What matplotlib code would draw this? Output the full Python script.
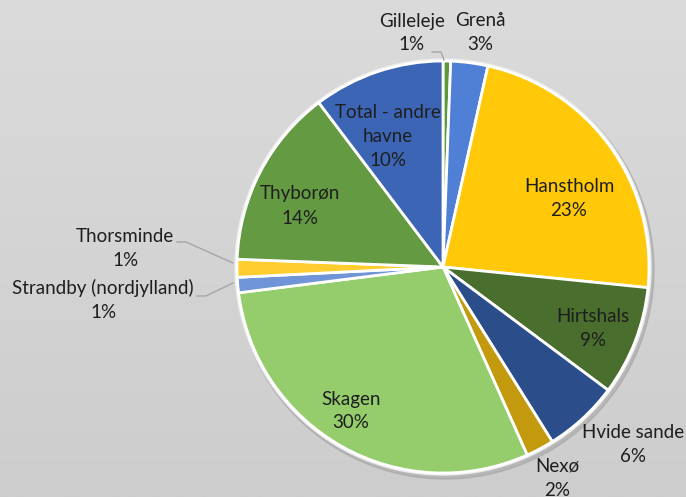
import numpy as np
import matplotlib.pyplot as plt
from matplotlib.colors import LinearSegmentedColormap
from matplotlib.patches import Circle

# data (share of landings, %)
havne = ['Gilleleje', 'Grenå', 'Hanstholm', 'Hirtshals', 'Hvide sande', 'Nexø',
         'Skagen', 'Strandby (nordjylland)', 'Thorsminde', 'Thyborøn',
         'Total - andre\nhavne']
andel = [0.6, 2.9, 23.1, 8.6, 5.9, 2.2, 29.7, 1.2, 1.4, 14.1, 10.3]
farver = ['#5a9a3c', '#4f80d6', '#ffc90a', '#4a6e2e', '#2b4d8a', '#c39a0e',
          '#95cd6c', '#6f95d8', '#ffcd30', '#649a42', '#3c66b5']

# label centres in picture pixels (x, y from top)
label_pos = [(412, 33), (480, 33), (569, 198), (593, 329), (633, 445), (557, 478),
             (351, 411), (103, 300), (125, 248), (300, 206), (388, 136)]

W, H = 686, 497
cx, cy, r = 443, H - 267, 206

fig = plt.figure(figsize=(6.86, 4.97), dpi=100)

# grey gradient background
bg = fig.add_axes([0, 0, 1, 1])
grad = np.linspace(0, 1, 256).reshape(-1, 1)
bg.imshow(grad, cmap=LinearSegmentedColormap.from_list('bg', ['#dbdbdb', '#cdcdcd']),
          aspect='auto', extent=[0, 1, 0, 1])
bg.axis('off')

ax = fig.add_axes([0, 0, 1, 1])
ax.patch.set_alpha(0)

# soft shadow / rim round the pie
ax.add_patch(Circle((cx + 2, cy - 3), r + 3, color='#9a9a9a', alpha=0.45, zorder=0))
ax.add_patch(Circle((cx, cy), r + 2, color='#ececec', zorder=0.5))

wedges, _ = ax.pie(andel, colors=farver, startangle=90, counterclock=False,
                   center=(cx, cy), radius=r,
                   wedgeprops=dict(edgecolor='white', linewidth=2))
for w in wedges:
    w.set_zorder(1)

ax.set_xlim(0, W)
ax.set_ylim(0, H)
ax.set_aspect('equal')
ax.axis('off')

for navn, v, (lx, ly) in zip(havne, andel, label_pos):
    ax.text(lx, H - ly, f'{navn}\n{round(v)}%', ha='center', va='center',
            fontsize=13.5, family=['Lato', 'DejaVu Sans'], color='#1e1e1e',
            linespacing=1.5, zorder=5)

# leader lines for the small slices
ledere = [
    [(432, 52), (441, 52), (444, 60)],
    [(177, 242), (186, 242), (233, 263)],
    [(197, 296), (206, 296), (233, 283)],
]
for pts in ledere:
    xs = [p[0] for p in pts]
    ys = [H - p[1] for p in pts]
    ax.plot(xs, ys, color='#a6a6a6', lw=1, zorder=4)

fig.savefig('out.png', dpi=100)
